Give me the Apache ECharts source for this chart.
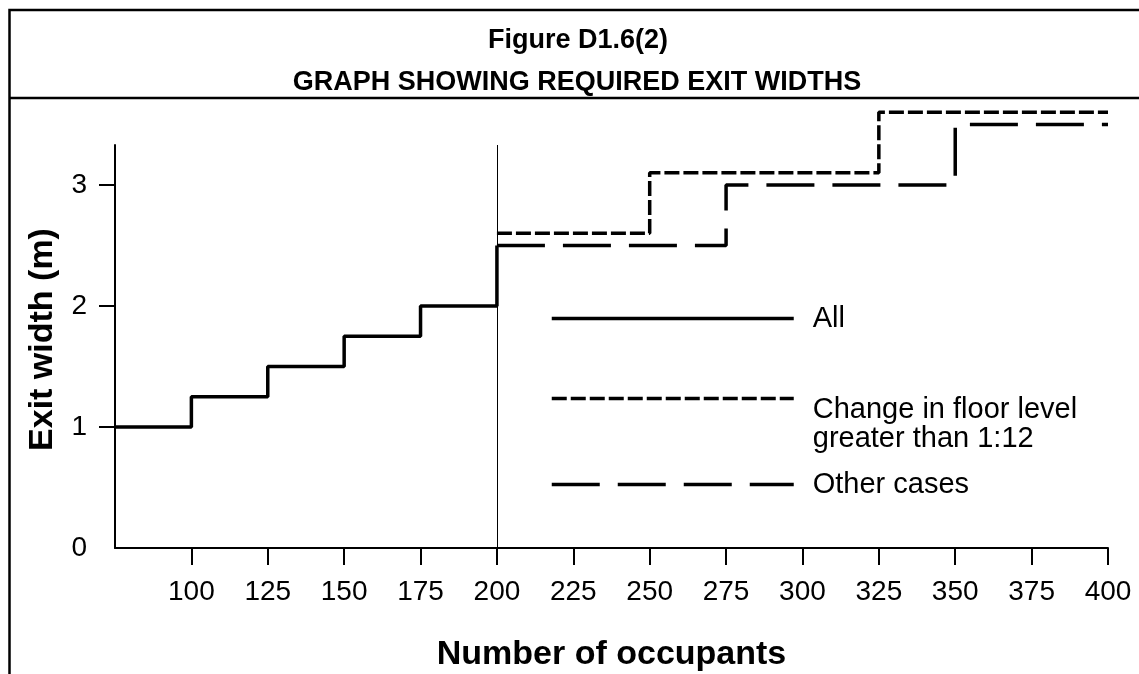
<!DOCTYPE html>
<html>
<head>
<meta charset="utf-8">
<title>Figure D1.6(2) – Required exit widths</title>
<script src="https://cdn.jsdelivr.net/npm/echarts@6/dist/echarts.min.js"></script>
<style>
  html, body { margin: 0; padding: 0; background: #fff; }
  #chart { width: 1139px; height: 674px; }
</style>
</head>
<body>
<div id="chart"></div>
<script>
// Step breakpoints: occupant count where each width starts, and the width (m)
const allOccupants = [75, 100, 125, 150, 175, 200];
const allWidths = [1.0, 1.25, 1.5, 1.75, 2.0, 2.5];

const rampOccupants = [200, 250, 325, 400];
const rampWidths = [2.6, 3.1, 3.6, 3.6];

const otherOccupants = [200, 275, 350, 400];
const otherWidths = [2.5, 3.0, 3.5, 3.5];

const xTickValues = [100, 125, 150, 175, 200, 225, 250, 275, 300, 325, 350, 375, 400];
const yTickValues = [0, 1, 2, 3];

const seriesNames = ['All', 'Change in floor level\ngreater than 1:12', 'Other cases'];

const FONT = '"Liberation Sans", Arial, Helvetica, sans-serif';
const pairs = (xs, ys) => xs.map((x, i) => [x, ys[i]]);

const chart = echarts.init(document.getElementById('chart'), null, { renderer: 'canvas' });

const legendText = { fontFamily: FONT, fontSize: 29, lineHeight: 29, color: '#000', padding: [0, 0, 0, 14] };
const legendBase = {
  orient: 'vertical',
  left: 550,
  padding: 0,
  itemWidth: 242,
  itemHeight: 14,
  selectedMode: false,
  itemStyle: { opacity: 0 },
  textStyle: legendText
};

chart.setOption({
  animation: false,
  backgroundColor: '#fff',
  title: [
    {
      text: 'Figure D1.6(2)',
      left: 578, top: 27, textAlign: 'center', padding: 0,
      textStyle: { fontFamily: FONT, fontSize: 27, fontWeight: 'bold', color: '#000' }
    },
    {
      text: 'GRAPH SHOWING REQUIRED EXIT WIDTHS',
      left: 577, top: 69, textAlign: 'center', padding: 0,
      textStyle: { fontFamily: FONT, fontSize: 27, fontWeight: 'bold', color: '#000' }
    }
  ],
  graphic: [
    // outer frame (left and top edges) and the rule under the heading
    { type: 'polyline', shape: { points: [[9.5, 674], [9.5, 10], [1139, 10]] },
      style: { stroke: '#000', lineWidth: 2.5, fill: null } },
    { type: 'line', shape: { x1: 9.5, y1: 98, x2: 1139, y2: 98 },
      style: { stroke: '#000', lineWidth: 2.5 } }
  ],
  legend: [
    Object.assign({}, legendBase, {
      data: [seriesNames[0]], top: 304,
      lineStyle: { width: 3.5, color: '#000', type: 'solid' }
    }),
    Object.assign({}, legendBase, {
      data: [seriesNames[1]], top: 344,
      lineStyle: { width: 3.5, color: '#000', type: [15, 4] },
      // a spacer line above the two text lines drops them below the key line
      formatter: name => '{gap| }\n' + name.split('\n').map(s => '{t|' + s + '}').join('\n'),
      textStyle: Object.assign({}, legendText, {
        rich: {
          gap: { fontSize: 10, lineHeight: 51 },
          t: { fontFamily: FONT, fontSize: 29, lineHeight: 29, color: '#000' }
        }
      })
    }),
    Object.assign({}, legendBase, {
      data: [seriesNames[2]], top: 470,
      lineStyle: { width: 3.5, color: '#000', type: [48, 18] }
    })
  ],
  grid: { left: 115, right: 31, top: 145, bottom: 126, containLabel: false, outerBoundsMode: 'none' },
  xAxis: {
    type: 'value',
    min: 75, max: 400, interval: 25,
    name: 'Number of occupants',
    nameLocation: 'middle',
    nameGap: 90,
    nameTextStyle: { fontFamily: FONT, fontSize: 34, fontWeight: 'bold', color: '#000' },
    axisLine: { show: true, onZero: false, lineStyle: { color: '#000', width: 2 } },
    axisTick: { show: true, length: 17, lineStyle: { color: '#000', width: 2 }, customValues: xTickValues },
    axisLabel: { fontFamily: FONT, fontSize: 28, color: '#000', margin: 30, customValues: xTickValues },
    splitLine: { show: false }
  },
  yAxis: {
    type: 'value',
    min: 0, max: 3.33, interval: 1,
    name: 'Exit width (m)',
    nameLocation: 'middle',
    nameGap: 55,
    nameRotate: 90,
    nameTextStyle: { fontFamily: FONT, fontSize: 34, fontWeight: 'bold', color: '#000', padding: [0, 0, 0, 14] },
    axisLine: { show: true, lineStyle: { color: '#000', width: 2 } },
    axisTick: { show: true, length: 16, lineStyle: { color: '#000', width: 2 }, customValues: [1, 2, 3] },
    axisLabel: { fontFamily: FONT, fontSize: 28, color: '#000', margin: 28, customValues: yTickValues },
    splitLine: { show: false }
  },
  series: [
    {
      name: seriesNames[0],
      type: 'line',
      step: 'end',
      symbol: 'none',
      clip: false,
      data: pairs(allOccupants, allWidths),
      lineStyle: { color: '#000', width: 3.5, type: 'solid' },
      itemStyle: { color: '#000' },
      markLine: {
        silent: true,
        symbol: ['none', 'none'],
        label: { show: false },
        lineStyle: { color: '#000', width: 1, type: 'solid' },
        data: [{ xAxis: allOccupants[allOccupants.length - 1] }]
      },
      z: 3
    },
    {
      name: seriesNames[1],
      type: 'line',
      step: 'end',
      symbol: 'none',
      clip: false,
      data: pairs(rampOccupants, rampWidths),
      lineStyle: { color: '#000', width: 3.5, type: [15, 4] },
      itemStyle: { color: '#000' },
      z: 2
    },
    {
      name: seriesNames[2],
      type: 'line',
      step: 'end',
      symbol: 'none',
      clip: false,
      data: pairs(otherOccupants, otherWidths),
      lineStyle: { color: '#000', width: 3.5, type: [48, 18] },
      itemStyle: { color: '#000' },
      z: 2
    }
  ]
});
</script>
</body>
</html>
